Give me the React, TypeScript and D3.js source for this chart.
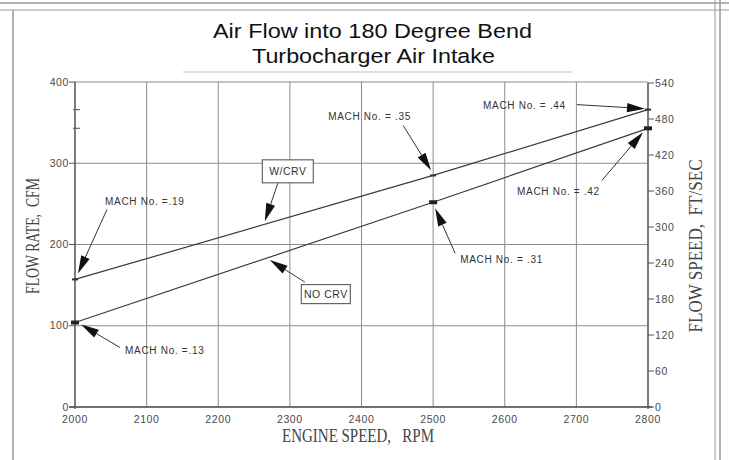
import React, { useEffect, useRef } from "react";
import * as d3 from "d3";

// engine speed (rpm) vs flow rate (cfm)
const rpm = [2000, 2500, 2800];
const withCrv = [157, 285, 366];
const noCrv = [104, 252, 343];
const machWithCrv = ["MACH No. =.19", "MACH No. = .35", "MACH No. = .44"];
const machNoCrv = ["MACH No. =.13", "MACH No. = .31", "MACH No. = .42"];

const flowTicks = [0, 100, 200, 300, 400];
const speedTicks = [0, 60, 120, 180, 240, 300, 360, 420, 480, 540];
const rpmTicks = [2000, 2100, 2200, 2300, 2400, 2500, 2600, 2700, 2800];

const seriesNames = ["W/CRV", "NO CRV"];
const seriesLabelRpm = [2265, 2272];

// callout placement, pixel offsets from the marked point: text, arrow start, arrow tip
const calloutLayout = [
  { s: 0, i: 0, tx: 30, ty: -74, sx: 32, sy: -70, hx: 3, hy: -6 },
  { s: 0, i: 1, tx: -105, ty: -55, sx: -30, sy: -50, hx: -2, hy: -5 },
  { s: 0, i: 2, tx: -165, ty: -1, sx: -71, sy: -5, hx: -3, hy: -1 },
  { s: 1, i: 0, tx: 50, ty: 31, sx: 45, sy: 25, hx: 6, hy: 2 },
  { s: 1, i: 1, tx: 27, ty: 61, sx: 22, sy: 51, hx: 2, hy: 6 },
  { s: 1, i: 2, tx: -131, ty: 67, sx: -46, sy: 52, hx: -5, hy: 4 },
];
const labelLayout = [
  { bx: 23, by: -53, bw: 51, bh: 23, sx: 13, sy: -41, hy: -3 },
  { bx: 56, by: 37, bw: 49, bh: 19, sx: 35, sy: 25, hy: 3 },
];

const W = 729;
const H = 460;

const App = () => {
  const ref = useRef<SVGSVGElement>(null);

  useEffect(() => {
    const svg = d3.select(ref.current);
    svg.selectAll("*").remove();

    const x = d3.scaleLinear().domain([2000, 2800]).range([75, 648]);
    const y = d3.scaleLinear().domain([0, 400]).range([407, 82]);
    const yR = d3.scaleLinear().domain([0, 540]).range([407, 83]);

    const sans = "'Liberation Sans', Arial, sans-serif";
    const serif = "'Liberation Serif', 'Times New Roman', serif";
    const grid = "#8c8c8c";
    const ink = "#3a3a3a";

    svg.append("rect").attr("width", W).attr("height", H).attr("fill", "#fff");

    // page edges of the scan
    const page = svg.append("g").attr("stroke", "#9a9a9a").attr("fill", "none");
    page.append("line").attr("x1", 0).attr("x2", W).attr("y1", 3).attr("y2", 3).attr("stroke-width", 1.5);
    page.append("line").attr("x1", 0).attr("x2", W).attr("y1", 10).attr("y2", 10).attr("stroke-width", 1);
    page.append("line").attr("x1", 13).attr("x2", 13).attr("y1", 10).attr("y2", H).attr("stroke-width", 1.5);
    page.append("line").attr("x1", 715).attr("x2", 715).attr("y1", 0).attr("y2", H).attr("stroke-width", 1);
    page.append("line").attr("x1", 720).attr("x2", 720).attr("y1", 0).attr("y2", H).attr("stroke-width", 1.5);

    // title
    const title = svg.append("g").attr("font-family", sans).attr("font-size", 20.5).attr("fill", "#111").attr("text-anchor", "middle");
    title.append("text").attr("x", 372.5).attr("y", 38)
      .attr("textLength", 319).attr("lengthAdjust", "spacingAndGlyphs")
      .text("Air Flow into 180 Degree Bend");
    title.append("text").attr("x", 373.5).attr("y", 63)
      .attr("textLength", 243).attr("lengthAdjust", "spacingAndGlyphs")
      .text("Turbocharger Air Intake");
    svg.append("line").attr("x1", 183).attr("x2", 572).attr("y1", 72).attr("y2", 72).attr("stroke", "#bbb");

    // grid
    const g = svg.append("g").attr("stroke", grid).attr("stroke-width", 1);
    g.selectAll(".vx").data(rpmTicks).join("line")
      .attr("x1", (d) => x(d)).attr("x2", (d) => x(d))
      .attr("y1", y(400)).attr("y2", y(0));
    g.selectAll(".hy").data(flowTicks).join("line")
      .attr("x1", x(2000)).attr("x2", x(2800))
      .attr("y1", (d) => y(d)).attr("y2", (d) => y(d));

    // axes
    const ax = svg.append("g").attr("stroke", "#555").attr("stroke-width", 1.3);
    ax.append("line").attr("x1", x(2000)).attr("x2", x(2000)).attr("y1", y(400)).attr("y2", y(0) + 2);
    ax.append("line").attr("x1", x(2800)).attr("x2", x(2800)).attr("y1", yR(540)).attr("y2", y(0) + 2);
    ax.append("line").attr("x1", x(2000) - 6).attr("x2", x(2800) + 4).attr("y1", y(0)).attr("y2", y(0));

    const tickText = { "font-family": sans, "font-size": 10.5, fill: "#4a4a4a", "letter-spacing": 0.6 };
    const applyTick = function (this: any) {
      Object.entries(tickText).forEach(([k, v]) => d3.select(this).attr(k, v as any));
    };

    const left = svg.append("g");
    left.selectAll("line").data(flowTicks).join("line")
      .attr("x1", x(2000) - 6).attr("x2", x(2000))
      .attr("y1", (d) => y(d)).attr("y2", (d) => y(d))
      .attr("stroke", "#555");
    left.selectAll("text").data(flowTicks).join("text")
      .attr("x", x(2000) - 6).attr("y", (d) => y(d) + 3.5)
      .attr("text-anchor", "end")
      .each(applyTick)
      .text((d) => d);

    const right = svg.append("g");
    right.selectAll("line").data(speedTicks).join("line")
      .attr("x1", x(2800)).attr("x2", x(2800) + 6)
      .attr("y1", (d) => yR(d)).attr("y2", (d) => yR(d))
      .attr("stroke", "#555");
    right.selectAll("text").data(speedTicks).join("text")
      .attr("x", x(2800) + 7).attr("y", (d) => yR(d) + 3.5)
      .each(applyTick)
      .text((d) => d);

    const bottom = svg.append("g");
    bottom.selectAll("text").data(rpmTicks).join("text")
      .attr("x", (d) => x(d)).attr("y", y(0) + 16)
      .attr("text-anchor", "middle")
      .each(applyTick)
      .text((d) => d);

    // axis titles
    const axisTitle = (sel: any, len: number) =>
      sel.attr("text-anchor", "middle").attr("font-family", serif).attr("font-size", 18)
        .attr("fill", "#444").attr("textLength", len).attr("lengthAdjust", "spacingAndGlyphs")
        .style("white-space", "pre");
    svg.append("text").attr("transform", `translate(39,236) rotate(-90)`)
      .call(axisTitle, 116).text("FLOW RATE,  CFM");
    svg.append("text").attr("transform", `translate(702,246) rotate(-90)`)
      .call(axisTitle, 173).text("FLOW SPEED,  FT/SEC");
    svg.append("text").attr("x", 358).attr("y", 442)
      .call(axisTitle, 152).text("ENGINE SPEED,   RPM");

    // series lines
    const series = [withCrv, noCrv];
    const line = d3.line<number>().x((_, i) => x(rpm[i])).y((d) => y(d));
    svg.append("g").selectAll("path").data(series).join("path")
      .attr("d", (d) => line(d))
      .attr("fill", "none").attr("stroke", ink).attr("stroke-width", 1.2);

    // point marks
    svg.append("g").selectAll("rect").data(withCrv).join("rect")
      .attr("x", (_, i) => x(rpm[i]) - 3).attr("y", (d) => y(d) - 1)
      .attr("width", 6).attr("height", 2).attr("fill", "#333");
    svg.append("g").selectAll("rect").data(noCrv).join("rect")
      .attr("x", (_, i) => x(rpm[i]) - 4).attr("y", (d) => y(d) - 2)
      .attr("width", 8).attr("height", 4).attr("fill", "#222");

    // little reference marks on the left axis
    svg.append("g").selectAll("line").data([withCrv[2], noCrv[2]]).join("line")
      .attr("x1", x(2000) - 2).attr("x2", x(2000) + 5)
      .attr("y1", (d) => y(d)).attr("y2", (d) => y(d))
      .attr("stroke", "#666").attr("stroke-width", 1.2);

    const arrow = (p: any, x0: number, y0: number, x1: number, y1: number) => {
      const dx = x1 - x0, dy = y1 - y0;
      const len = Math.hypot(dx, dy);
      const ux = dx / len, uy = dy / len;
      const hl = 18, hw = 4.6;
      const bx = x1 - ux * hl, by = y1 - uy * hl;
      p.append("line").attr("x1", x0).attr("y1", y0).attr("x2", bx).attr("y2", by)
        .attr("stroke", "#333").attr("stroke-width", 1);
      p.append("path")
        .attr("d", `M${x1},${y1}L${bx - uy * hw},${by + ux * hw}L${bx + uy * hw},${by - ux * hw}Z`)
        .attr("fill", "#111");
    };

    // MACH callouts
    const mach = [machWithCrv, machNoCrv];
    const co = svg.append("g");
    calloutLayout.forEach((c) => {
      const px = x(rpm[c.i]);
      const py = y(series[c.s][c.i]);
      co.append("text")
        .attr("x", px + c.tx).attr("y", py + c.ty)
        .attr("font-family", sans).attr("font-size", 10).attr("letter-spacing", 0.7)
        .attr("fill", "#333")
        .text(mach[c.s][c.i]);
      arrow(co, px + c.sx, py + c.sy, px + c.hx, py + c.hy);
    });

    // series labels in boxes
    const lb = svg.append("g");
    labelLayout.forEach((l, s) => {
      const r = seriesLabelRpm[s];
      const px = x(r);
      const py = y(d3.interpolateNumber(series[s][0], series[s][1])((r - rpm[0]) / (rpm[1] - rpm[0])));
      lb.append("rect")
        .attr("x", px + l.bx - l.bw / 2).attr("y", py + l.by - l.bh / 2)
        .attr("width", l.bw).attr("height", l.bh)
        .attr("fill", "#fff").attr("stroke", "#666").attr("stroke-width", 1.2);
      lb.append("text")
        .attr("x", px + l.bx).attr("y", py + l.by + 3.5)
        .attr("text-anchor", "middle")
        .attr("font-family", sans).attr("font-size", 10.5).attr("letter-spacing", 0.5)
        .attr("fill", "#333")
        .text(seriesNames[s]);
      arrow(lb, px + l.sx, py + l.sy, px, py + l.hy);
    });
  }, []);

  return (
    <svg
      ref={ref}
      width={W}
      height={H}
      style={{ position: "absolute", left: 0, top: 0 }}
    />
  );
};

export default App;
